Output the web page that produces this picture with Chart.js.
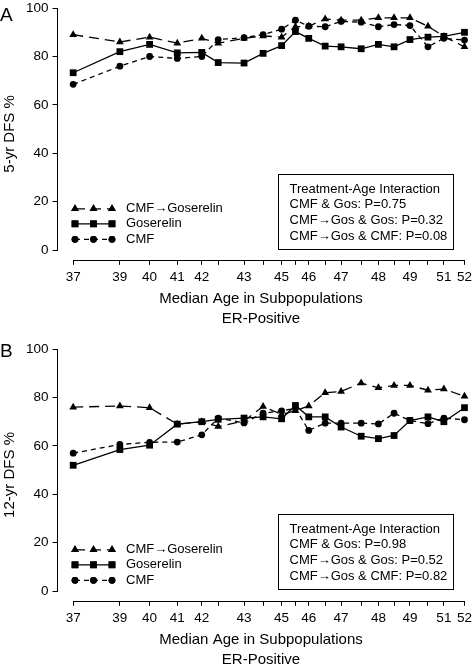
<!DOCTYPE html>
<html>
<head>
<meta charset="utf-8">
<script src="https://cdn.jsdelivr.net/npm/chart.js@4.4.0/dist/chart.umd.min.js"></script>
<style>
  html, body { margin: 0; padding: 0; background: #fff; overflow: hidden; }
  body { width: 476px; height: 664px; position: relative; }
  .panel { position: absolute; left: 0; width: 476px; height: 333px; }
  #panelA { top: -4px; }
  #panelB { top: 337px; }
</style>
</head>
<body>
<div class="panel" id="panelA"><canvas id="chartA"></canvas></div>
<div class="panel" id="panelB"><canvas id="chartB"></canvas></div>
<script>
// median age of each subpopulation, and the label shown under its tick
const medianAge = [37.0, 38.79, 39.93, 40.99, 41.93, 42.56, 43.55, 44.28, 44.99, 45.52,
  46.03, 46.66, 47.27, 48.04, 48.70, 49.30, 49.91, 50.60, 51.21, 52.0];
const ageLabels = ['37', '39', '40', '41', '42', '', '43', '', '45', '', '46', '', '47', '', '48', '', '49', '', '51', '52'];
const yTicks = [0, 20, 40, 60, 80, 100];

const seriesNames = ['CMF\u2192Goserelin', 'Goserelin', 'CMF'];

// panel A: 5-yr DFS %
const dfs5CmfGos = [89, 86, 88, 85.5, 87.5, 85.5, 87.5, 88.5, 88, 92.3, 92.5, 95.5, 95, 95, 96, 96, 96, 92.5, 88.3, 84];
const dfs5Gos = [73.3, 82, 85, 81.5, 81.7, 77.5, 77.3, 81.3, 84.5, 90.3, 87.5, 84.3, 84, 83.2, 85, 84, 87, 88, 88.3, 90];
const dfs5Cmf = [68.5, 76, 80, 79.2, 80, 87, 87.8, 89, 91.3, 95, 92.5, 92.3, 94.5, 94.2, 92.3, 93.2, 92.8, 84, 87.5, 86.8];

// panel B: 12-yr DFS %
const dfs12CmfGos = [76, 76.5, 75.8, 69, 70, 68, 70.3, 76.3, 73, 74.5, 76.5, 82, 82.5, 86, 84, 85, 85, 83, 83.5, 80.5];
const dfs12Gos = [52, 58.5, 60.3, 69, 70, 71, 71.5, 72, 71.2, 76.7, 72, 72, 67.8, 64, 63, 64.3, 70.5, 72, 70, 75.8];
const dfs12Cmf = [57, 60.6, 61.5, 61.6, 64.6, 71.5, 69.5, 73.5, 74.5, 75.5, 66.4, 69.4, 69.4, 69.4, 69.1, 73.5, 70.5, 69.2, 71.5, 70.8];

const pText5 = ['Treatment-Age Interaction', 'CMF & Gos: P=0.75', 'CMF\u2192Gos & Gos: P=0.32', 'CMF\u2192Gos & CMF: P=0.08'];
const pText12 = ['Treatment-Age Interaction', 'CMF & Gos: P=0.98', 'CMF\u2192Gos & Gos: P=0.52', 'CMF\u2192Gos & CMF: P=0.82'];

Chart.defaults.font.family = '"Liberation Sans", Arial, sans-serif';
Chart.defaults.color = '#000';

const styles = [
  { pointStyle: 'triangle', radius: 4.5, dash: [10, 6] },
  { pointStyle: 'rect', radius: 4.8, dash: [] },
  { pointStyle: 'circle', radius: 3.4, dash: [5, 4] }
];

function toPoints(values) {
  return values.map((v, i) => ({ x: medianAge[i], y: v }));
}

// R style axes, legend, p-value box and panel letter
const extras = {
  id: 'extras',
  afterDraw(chart, args, opts) {
    const ctx = chart.ctx;
    const area = chart.chartArea;
    const xs = chart.scales.x;
    const ys = chart.scales.y;
    ctx.save();
    ctx.strokeStyle = '#000';
    ctx.lineWidth = 1;
    ctx.setLineDash([]);
    ctx.beginPath();
    let ax = Math.round(area.left) - 0.5;
    ctx.moveTo(ax, ys.getPixelForValue(0));
    ctx.lineTo(ax, ys.getPixelForValue(100));
    let ay = Math.round(area.bottom) + 0.5;
    ctx.moveTo(xs.getPixelForValue(37), ay);
    ctx.lineTo(xs.getPixelForValue(52), ay);
    ctx.stroke();

    // legend
    ctx.font = '13px "Liberation Sans", Arial, sans-serif';
    ctx.fillStyle = '#000';
    ctx.textBaseline = 'middle';
    opts.legendRows.forEach((dy, i) => {
      const y = area.bottom + dy;
      const st = styles[i];
      ctx.setLineDash(st.dash);
      ctx.lineWidth = 1.3;
      ctx.beginPath();
      ctx.moveTo(75, y);
      ctx.lineTo(112, y);
      ctx.stroke();
      ctx.setLineDash([]);
      [75, 93.5, 112].forEach(px => {
        Chart.helpers.drawPoint(ctx, { pointStyle: st.pointStyle, radius: st.radius, rotation: 0, borderWidth: 0 }, px, y);
        ctx.fill();
      });
      ctx.fillText(seriesNames[i], 126, y);
    });

    // p-value box
    const bt = area.bottom + opts.boxTop;
    const bb = area.bottom + opts.boxBottom;
    ctx.lineWidth = 1;
    ctx.strokeRect(278.5, Math.round(bt) + 0.5, 175, Math.round(bb - bt));
    opts.pText.forEach((t, i) => {
      ctx.fillText(t, 289.5, bt + 15.5 + i * 15.6);
    });

    // panel letter
    ctx.font = '19px "Liberation Sans", Arial, sans-serif';
    ctx.textBaseline = 'alphabetic';
    ctx.fillText(opts.letter, 0, opts.letterY);
    ctx.restore();
  }
};

function makePanel(canvasId, yTitle, series, pText, letter, letterY, boxTop, boxBottom) {
  const datasets = series.map((vals, i) => ({
    label: seriesNames[i],
    data: toPoints(vals),
    borderColor: '#000',
    backgroundColor: '#000',
    borderWidth: 1.3,
    borderDash: styles[i].dash,
    pointStyle: styles[i].pointStyle,
    pointRadius: styles[i].radius,
    pointBorderWidth: 0,
    pointBackgroundColor: '#000',
    tension: 0,
    clip: false
  }));

  return new Chart(document.getElementById(canvasId), {
    type: 'line',
    data: { datasets: datasets },
    options: {
      responsive: true,
      maintainAspectRatio: false,
      animation: false,
      layout: { padding: { left: 0, right: 5, top: 0, bottom: 0 } },
      plugins: {
        legend: { display: false },
        tooltip: { enabled: false },
        extras: { pText: pText, letter: letter, letterY: letterY, boxTop: boxTop, boxBottom: boxBottom, legendRows: [-51, -36, -20.5] }
      },
      scales: {
        x: {
          type: 'linear',
          min: 36.4,
          max: 52,
          afterBuildTicks: (scale) => { scale.ticks = medianAge.map(v => ({ value: v })); },
          border: { display: false },
          grid: { display: true, drawOnChartArea: false, drawTicks: true, tickLength: 5, color: '#000' },
          ticks: {
            autoSkip: false, maxRotation: 0, minRotation: 0, padding: 4,
            font: { size: 13.5 },
            callback: (value, index) => ageLabels[index]
          },
          title: {
            display: true,
            text: ['Median Age in Subpopulations', 'ER-Positive'],
            font: { size: 15, lineHeight: 1.333 },
            padding: { top: 0, bottom: 0 }
          }
        },
        y: {
          min: -4,
          max: 100,
          afterBuildTicks: (scale) => { scale.ticks = yTicks.map(v => ({ value: v })); },
          border: { display: false },
          grid: { display: true, drawOnChartArea: false, drawTicks: true, tickLength: 5, color: '#000' },
          ticks: { padding: 4, font: { size: 13.5 } },
          title: {
            display: true,
            text: yTitle,
            font: { size: 15, lineHeight: 1.333 },
            padding: { top: 0, bottom: 2 }
          }
        }
      }
    },
    plugins: [extras]
  });
}

makePanel('chartA', '5-yr DFS %', [dfs5CmfGos, dfs5Gos, dfs5Cmf], pText5, 'A', 25, -86, -11);
makePanel('chartB', '12-yr DFS %', [dfs12CmfGos, dfs12Gos, dfs12Cmf], pText12, 'B', 20, -87, -12);
</script>
</body>
</html>
